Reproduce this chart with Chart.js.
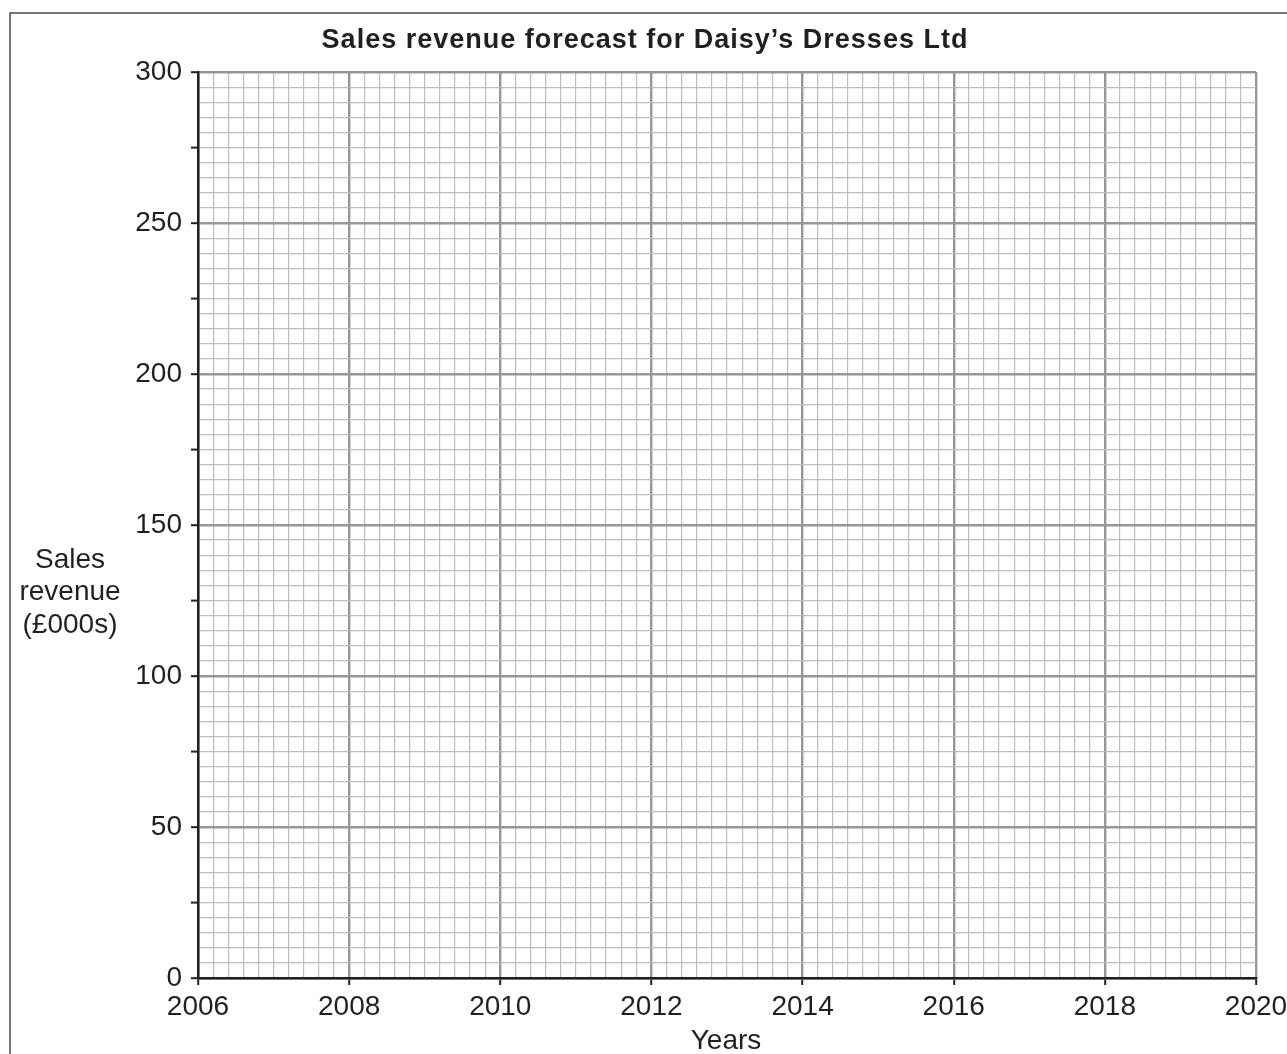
<!DOCTYPE html>
<html lang="en">
<head>
    <meta charset="UTF-8">
    <title>Sales revenue forecast for Daisy's Dresses Ltd</title>
    <script src="https://cdn.jsdelivr.net/npm/chart.js"></script>
    <style>
        html, body { margin: 0; padding: 0; background: #fff; overflow: hidden; }
        canvas { display: block; }
    </style>
</head>
<body>
    <canvas id="forecastChart" width="1287" height="1054"></canvas>

    <script>
        // Chart data (blank forecast grid: no values plotted yet)
        const yearLabels = [2006, 2008, 2010, 2012, 2014, 2016, 2018, 2020];
        const revenueLabels = [0, 50, 100, 150, 200, 250, 300];
        const salesRevenue = [];

        const INK = '#231f20';
        const FONT = "'Liberation Sans', Arial, sans-serif";

        const isWhole = v => Math.abs(v - Math.round(v)) < 1e-6;
        const isYearLabel = v => isWhole(v) && yearLabels.includes(Math.round(v));
        const isRevenueLabel = v => isWhole(v) && revenueLabels.includes(Math.round(v));

        // Extra text + frame drawn on the canvas
        const paperText = {
            id: 'paperText',
            beforeDraw(chart) {
                const ctx = chart.ctx;
                ctx.save();
                ctx.strokeStyle = '#555';
                ctx.lineWidth = 1.6;
                ctx.strokeRect(10, 13, 1400, 1200);
                ctx.restore();
            },
            afterDraw(chart) {
                const ctx = chart.ctx;
                ctx.save();
                ctx.fillStyle = INK;
                ctx.textAlign = 'center';
                ctx.textBaseline = 'alphabetic';

                ctx.font = 'bold 27px ' + FONT;
                ctx.letterSpacing = '1px';
                ctx.fillText('Sales revenue forecast for Daisy\u2019s Dresses Ltd', 645, 48);
                ctx.letterSpacing = '0px';

                ctx.font = '28px ' + FONT;
                ctx.fillText('Sales', 70, 568);
                ctx.fillText('revenue', 70, 600);
                ctx.fillText('(\u00a3000s)', 70, 633);

                ctx.fillText('Years', 726, 1049);
                ctx.restore();
            }
        };

        const ctx = document.getElementById('forecastChart').getContext('2d');

        const forecastChart = new Chart(ctx, {
            type: 'scatter',
            data: {
                datasets: [{
                    label: 'Sales revenue',
                    data: salesRevenue,
                    borderColor: INK,
                    backgroundColor: INK
                }]
            },
            options: {
                responsive: false,
                animation: false,
                devicePixelRatio: 1,
                layout: {
                    padding: { top: 72, right: 31, left: 0, bottom: 0 }
                },
                plugins: {
                    legend: { display: false },
                    tooltip: { enabled: false },
                    title: { display: false }
                },
                scales: {
                    x: {
                        type: 'linear',
                        min: 2006,
                        max: 2020,
                        afterFit: scale => {
                            scale.height = 76;
                            scale.paddingLeft = 0;
                            scale.paddingRight = 0;
                        },
                        border: { display: true, color: INK, width: 2.5 },
                        grid: {
                            color: c => isWhole(c.tick.value) && Math.round(c.tick.value) % 2 === 0 ? '#979797' : '#bdbdbd',
                            lineWidth: c => isWhole(c.tick.value) && Math.round(c.tick.value) % 2 === 0 ? 2.4 : 1.2,
                            tickColor: c => isYearLabel(c.tick.value) ? INK : 'rgba(0,0,0,0)',
                            tickWidth: 2,
                            tickLength: 7
                        },
                        ticks: {
                            stepSize: 0.2,
                            autoSkip: false,
                            maxRotation: 0,
                            minRotation: 0,
                            padding: 5,
                            color: INK,
                            font: { family: FONT, size: 28 },
                            callback: v => isYearLabel(v) ? String(Math.round(v)) : ''
                        }
                    },
                    y: {
                        min: 0,
                        max: 300,
                        afterFit: scale => { scale.width = 198; },
                        border: { display: true, color: INK, width: 2.5 },
                        grid: {
                            color: c => isRevenueLabel(c.tick.value) ? '#979797' : '#bdbdbd',
                            lineWidth: c => isRevenueLabel(c.tick.value) ? 2.4 : 1.2,
                            tickColor: c => c.tick.value % 25 === 0 ? INK : 'rgba(0,0,0,0)',
                            tickWidth: 2,
                            tickLength: 7
                        },
                        ticks: {
                            stepSize: 5,
                            autoSkip: false,
                            padding: 9,
                            color: INK,
                            font: { family: FONT, size: 28 },
                            callback: v => isRevenueLabel(v) ? String(Math.round(v)) : ''
                        }
                    }
                }
            },
            plugins: [paperText]
        });
    </script>
</body>
</html>
